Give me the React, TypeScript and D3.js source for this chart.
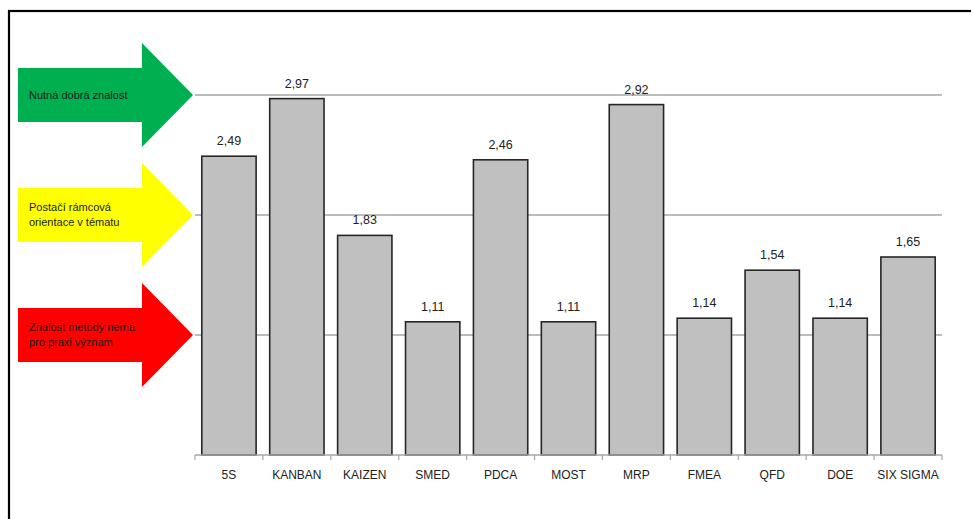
import React from "react";
import * as d3 from "d3";

// Methods and their average rating (0–3 scale)
const methods = ["5S", "KANBAN", "KAIZEN", "SMED", "PDCA", "MOST", "MRP", "FMEA", "QFD", "DOE", "SIX SIGMA"];
const scores = [2.49, 2.97, 1.83, 1.11, 2.46, 1.11, 2.92, 1.14, 1.54, 1.14, 1.65];

// Knowledge levels marked by arrows pointing at gridlines
const levelValues = [3, 2, 1];
const levelLines = [["Nutná dobrá znalost"], ["Postačí rámcová", "orientace v tématu"], ["Znalost metody nemá", "pro praxi význam"]];
const levelColors = ["#00b050", "#ffff00", "#ff0000"];

const W = 971;
const H = 519;
const plot = { left: 195, right: 942, top: 95, bottom: 455 };
const font = "'Liberation Sans', 'Open Sans', sans-serif";

export default function App() {
  const x = d3.scaleBand<string>().domain(methods).range([plot.left, plot.right]).paddingInner(0.2).paddingOuter(0.1);
  const y = d3.scaleLinear().domain([0, 3]).range([plot.bottom, plot.top]);
  const step = x.step();
  const fmt = (v: number) => d3.format(".2f")(v).replace(".", ",");

  const arrowPath = (tipY: number) => {
    const x0 = 18, xNeck = 142, xTip = 193, bodyH = 27, headH = 52;
    return d3.line()([
      [x0, tipY - bodyH], [xNeck, tipY - bodyH], [xNeck, tipY - headH], [xTip, tipY],
      [xNeck, tipY + headH], [xNeck, tipY + bodyH], [x0, tipY + bodyH],
    ]) + "Z";
  };

  return (
    <svg width={W} height={H} style={{ position: "absolute", left: 0, top: 0, background: "#fff" }}>
      {/* outer frame */}
      <rect x={9} y={11} width={W + 20} height={H + 20} fill="#fff" stroke="#000" strokeWidth={2.2} />

      {/* gridlines */}
      {levelValues.map((v) => (
        <line key={v} x1={plot.left} x2={plot.right} y1={y(v)} y2={y(v)} stroke="#a6a6a6" strokeWidth={1.4} />
      ))}

      {/* bars */}
      {scores.map((v, i) => (
        <g key={methods[i]}>
          <rect x={x(methods[i])} y={y(v)} width={x.bandwidth()} height={y(0) - y(v)} fill="#c0c0c0" stroke="#262626" strokeWidth={1.6} />
          <text x={(x(methods[i]) as number) + x.bandwidth() / 2} y={y(v) - 11} textAnchor="middle" fontFamily={font} fontSize={12.5} fill="#222">
            {fmt(v)}
          </text>
        </g>
      ))}

      {/* category axis */}
      <line x1={plot.left} x2={plot.right} y1={plot.bottom} y2={plot.bottom} stroke="#a6a6a6" strokeWidth={1.4} />
      {d3.range(methods.length + 1).map((k) => (
        <line key={k} x1={plot.left + k * step} x2={plot.left + k * step} y1={plot.bottom} y2={plot.bottom + 5} stroke="#a6a6a6" strokeWidth={1.2} />
      ))}
      {methods.map((m) => (
        <text key={m} x={(x(m) as number) + x.bandwidth() / 2} y={plot.bottom + 24} textAnchor="middle" fontFamily={font} fontSize={12} fill="#222">
          {m}
        </text>
      ))}

      {/* level arrows */}
      {levelValues.map((v, i) => {
        const tipY = y(v);
        const lines = levelLines[i];
        const lh = 15;
        const startY = tipY - ((lines.length - 1) * lh) / 2;
        return (
          <g key={v}>
            <path d={arrowPath(tipY)} fill={levelColors[i]} />
            {lines.map((t, j) => (
              <text key={j} x={29} y={startY + j * lh} dy="0.35em" fontFamily={font} fontSize={11} fill="#1a1a1a">
                {t}
              </text>
            ))}
          </g>
        );
      })}
    </svg>
  );
}
